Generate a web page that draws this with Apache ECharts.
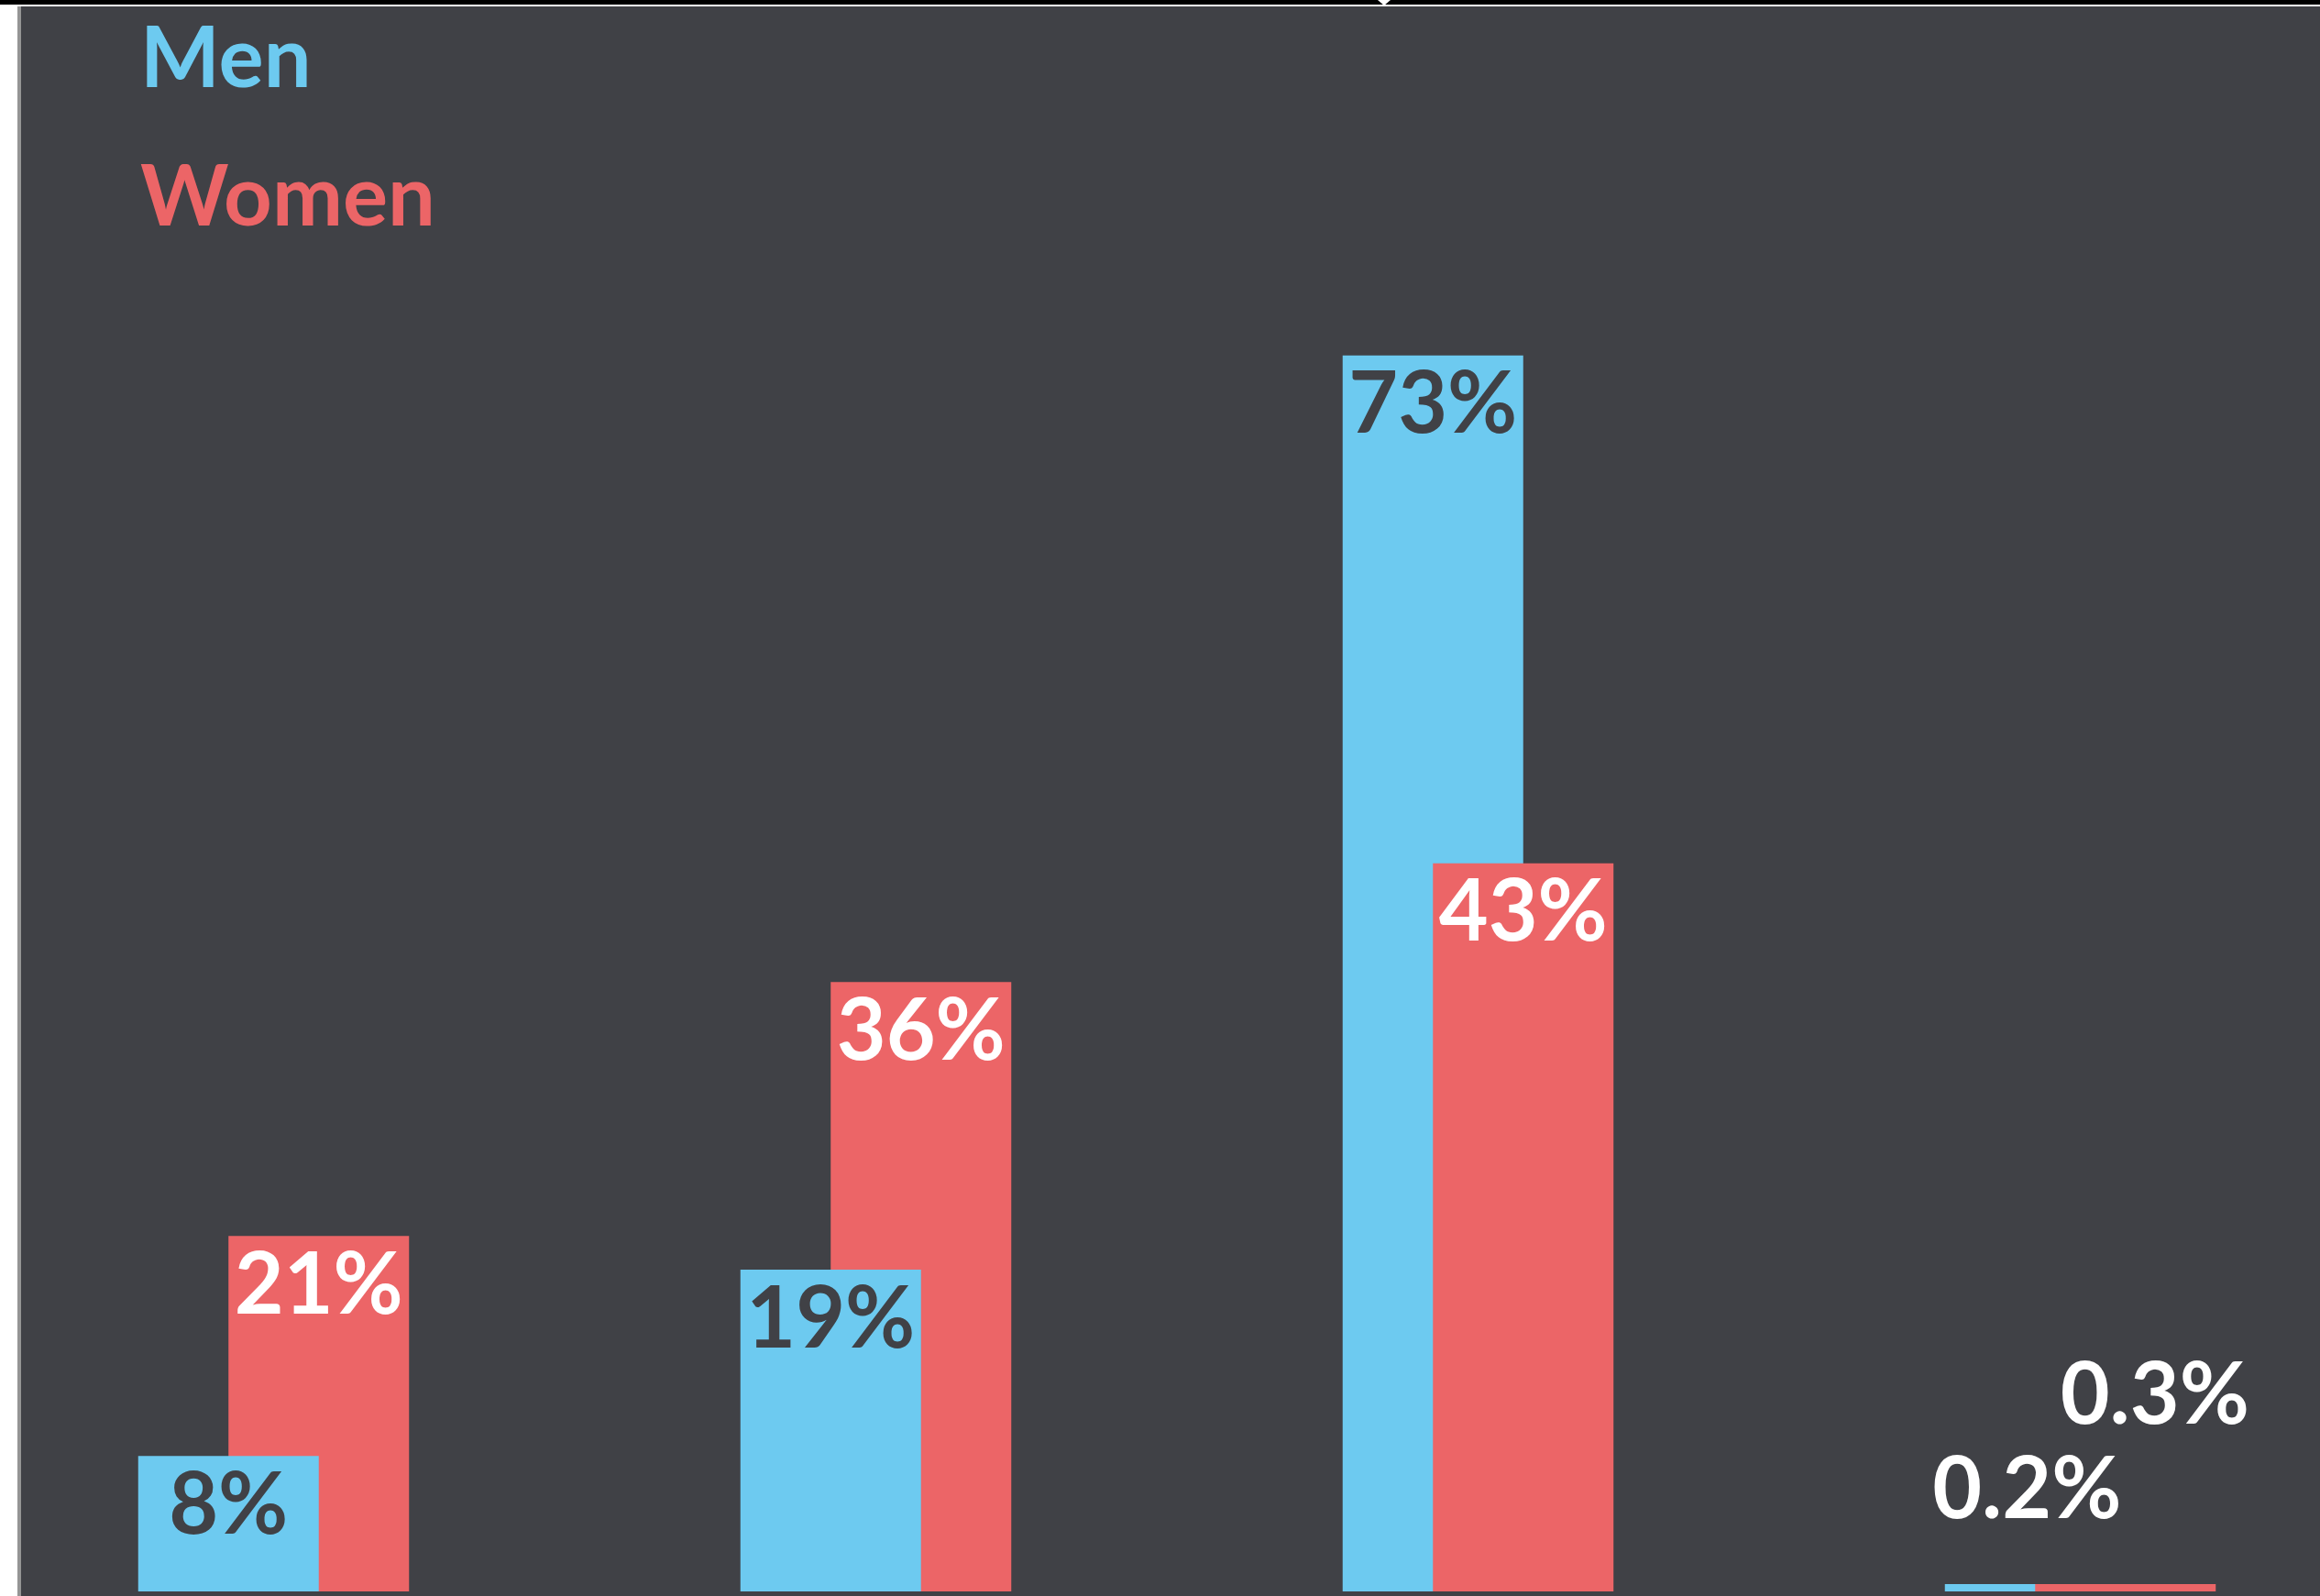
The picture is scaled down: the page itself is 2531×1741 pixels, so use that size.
<!DOCTYPE html>
<html>
<head>
<meta charset="utf-8">
<script src="https://cdn.jsdelivr.net/npm/echarts@6/dist/echarts.min.js"></script>
<style>
  html, body { margin: 0; padding: 0; background: #fff; }
  #chart-container { width: 2531px; height: 1741px; }
</style>
</head>
<body>
<div id="chart-container"></div>
<script>
const categories = ['A', 'B', 'C', 'D'];
// men: shorter bar sits in front for the first two groups, behind for the last two
const menFront = [8, 19, '-', '-'];
const menBack = ['-', '-', 73, 0.2];
const women = [21, 36, 43, 0.3];

const BLUE = '#6dcaf0';
const RED = '#ec6567';
const BG = '#404146';
const FONT = 'Lato';

const chartDom = document.getElementById('chart-container');
const myChart = echarts.init(chartDom);

const insideLabel = (color) => ({
    show: true,
    position: 'insideTop',
    distance: 8,
    color: color,
    fontFamily: FONT,
    fontWeight: 'bold',
    fontSize: 93,
    lineHeight: 93,
    formatter: (p) => p.value + '%'
});

// tiny bars get their labels floated above
const floatLabel = (dx, dist) => ({
    position: 'top',
    distance: dist,
    offset: [dx, 0],
    color: '#fff',
    fontWeight: 'bold'
});

const option = {
    backgroundColor: BG,
    animation: false,
    legend: {
        data: [
            { name: 'Men', textStyle: { color: BLUE } },
            { name: 'Women', textStyle: { color: RED } }
        ],
        orient: 'vertical',
        left: 143,
        top: 14,
        itemWidth: 0,
        itemHeight: 92,
        itemGap: 59,
        icon: 'rect',
        selectedMode: false,
        textStyle: {
            fontFamily: FONT,
            fontWeight: 'bold',
            fontSize: 92,
            lineHeight: 92
        }
    },
    grid: {
        left: -30,
        width: 2628,
        top: 0,
        bottom: 5,
        outerBoundsMode: 'none'
    },
    xAxis: {
        type: 'category',
        data: categories,
        show: false
    },
    yAxis: {
        type: 'value',
        min: 0,
        max: 94,
        show: false
    },
    series: [
        {
            name: 'Men',
            type: 'bar',
            stack: 'men',
            z: 3,
            barWidth: 197,
            barGap: '-50%',
            data: menFront,
            itemStyle: { color: BLUE },
            label: insideLabel(BG)
        },
        {
            name: 'Men',
            type: 'bar',
            stack: 'men',
            z: 1,
            barWidth: 197,
            barGap: '-50%',
            barMinHeight: 8,
            data: menBack.map((v, i) => i === 3 ? { value: v, label: floatLabel(-9, 56) } : v),
            itemStyle: { color: BLUE },
            label: insideLabel(BG)
        },
        {
            name: 'Women',
            type: 'bar',
            stack: 'women',
            z: 2,
            barWidth: 197,
            barGap: '-50%',
            barMinHeight: 8,
            data: women.map((v, i) => i === 3 ? { value: v, label: floatLabel(32, 159) } : v),
            itemStyle: { color: RED },
            label: insideLabel('#fff')
        }
    ],
    graphic: [
        { type: 'rect', shape: { x: 0, y: 0, width: 2531, height: 5 }, style: { fill: '#000' }, z: 10 },
        { type: 'rect', shape: { x: 0, y: 5, width: 2531, height: 2 }, style: { fill: '#fff' }, z: 10 },
        { type: 'polygon', shape: { points: [[1503, 0], [1517, 0], [1510, 6]] }, style: { fill: '#fff' }, z: 11 },
        { type: 'rect', shape: { x: 0, y: 7, width: 19, height: 1734 }, style: { fill: '#fff' }, z: 10 },
        { type: 'rect', shape: { x: 19, y: 7, width: 4, height: 1734 }, style: { fill: '#959595' }, z: 10 }
    ]
};

myChart.setOption(option);
</script>
</body>
</html>
